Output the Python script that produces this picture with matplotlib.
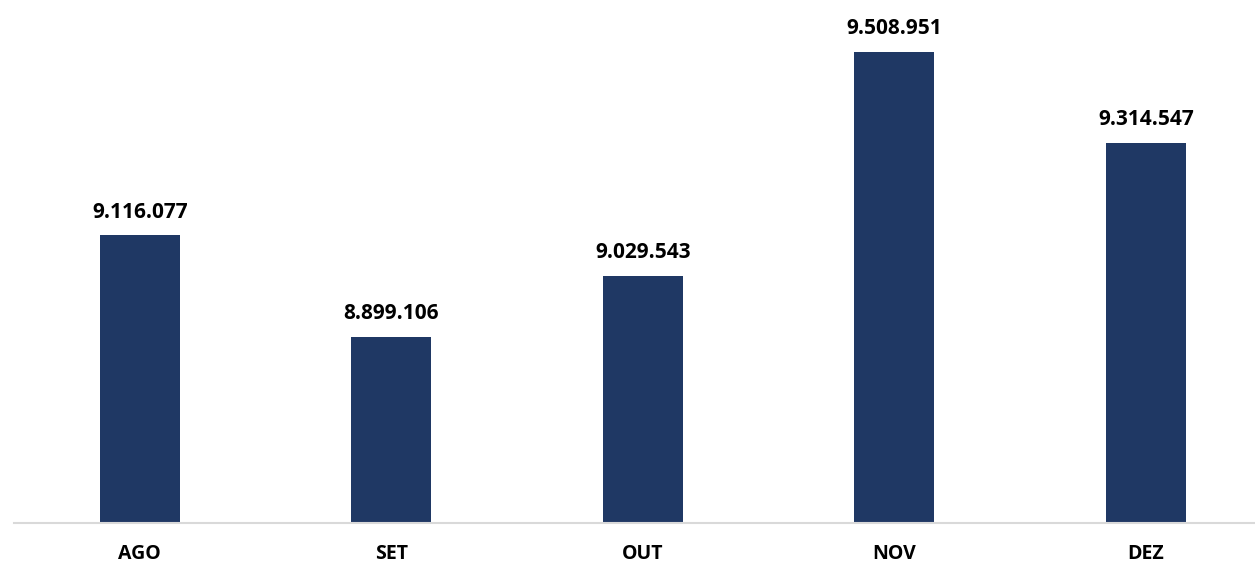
import numpy as np
import matplotlib.pyplot as plt

# dados
meses = ['AGO', 'SET', 'OUT', 'NOV', 'DEZ']
valores = [9116077, 8899106, 9029543, 9508951, 9314547]

plt.rcParams['font.family'] = ['Open Sans', 'DejaVu Sans']

fig = plt.figure(figsize=(12.55, 5.68), dpi=100)
ax = fig.add_axes([14 / 1255, 45 / 568, 1241 / 1255, 523 / 568])

x = np.arange(len(meses))
bars = ax.bar(x, valores, width=0.318, color='#1F3864', zorder=2)

# rotulos de dados no formato pt-BR
for xi, v in zip(x, valores):
    txt = f'{v:,}'.replace(',', '.')
    ax.annotate(txt, (xi, v), xytext=(0, 9), textcoords='offset points',
                ha='center', va='bottom', fontsize=15, fontweight='bold')

ax.set_xlim(-0.5, 4.434)
ax.set_ylim(8500000, 9620000)
ax.set_xticks(x)
ax.set_xticklabels(meses, fontsize=14, fontweight='bold')
ax.tick_params(axis='x', length=0, pad=15)
ax.set_yticks([])

for s in ['top', 'right', 'left']:
    ax.spines[s].set_visible(False)
ax.spines['bottom'].set_color('#D9D9D9')
ax.spines['bottom'].set_linewidth(1.5)

fig.savefig('out.png', dpi=100)
